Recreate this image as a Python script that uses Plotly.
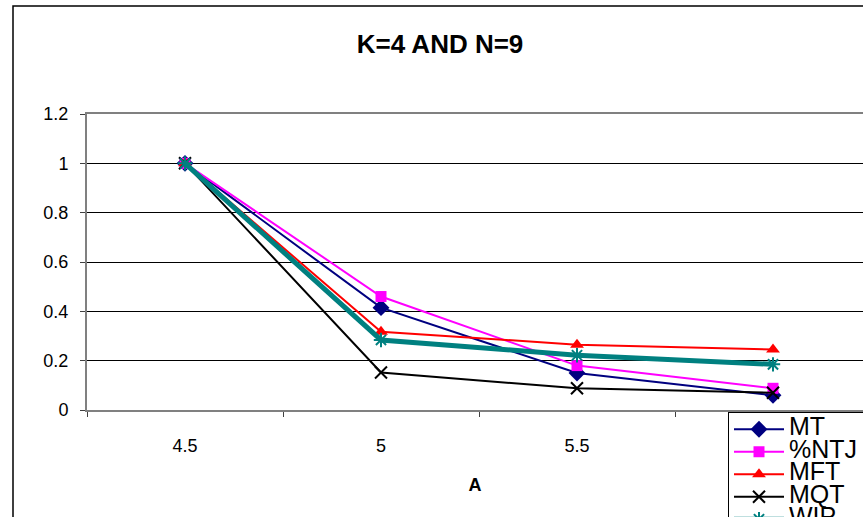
import plotly.graph_objects as go

# Category axis values and series
a_values = ["4.5", "5", "5.5", "6"]
mt = [1.0, 0.415, 0.15, 0.06]
ntj = [1.0, 0.46, 0.18, 0.088]
mft = [1.0, 0.317, 0.265, 0.245]
mqt = [1.0, 0.152, 0.088, 0.07]
wip = [1.0, 0.284, 0.222, 0.185]

W, H = 863, 517
L, R, T, B = 87, 0, 114, 107          # plot-area margins in px
PW, PH = W - L - R, H - T - B


def px_x(px):
    return (px - L) / PW


def px_y(py):
    return (H - B - py) / PH


FONT = "Arial, Liberation Sans, sans-serif"


def big(name):
    return f'<span style="font-size:25px">{name}</span>'


series = [
    ("MT", mt, "#000080", 2, dict(symbol="diamond", size=13, color="#000080")),
    ("%NTJ", ntj, "#FF00FF", 2, dict(symbol="square", size=11, color="#FF00FF")),
    ("MFT", mft, "#FF0000", 2, dict(symbol="triangle-up", size=12, color="#FF0000")),
    ("MQT", mqt, "#000000", 2, dict(symbol="x-thin", size=12, color="#000000",
                                      line=dict(color="#000000", width=2))),
    ("WIP", wip, "#008080", 5, dict(symbol="asterisk", size=12, color="#008080",
                                      line=dict(color="#008080", width=2))),
]

fig = go.Figure()
for name, vals, col, lw, mk in series:
    fig.add_trace(go.Scatter(
        x=a_values, y=vals, name=big(name), mode="lines+markers",
        line=dict(color=col, width=lw), marker=mk,
    ))

# x range chosen so each category is 196 px wide starting at the left edge
x0 = -0.5
x1 = x0 + PW / 196.0

fig.update_layout(
    width=W, height=H,
    margin=dict(l=L, r=R, t=T, b=B, autoexpand=False),
    paper_bgcolor="white", plot_bgcolor="white",
    font=dict(family=FONT, size=18, color="black"),
    title=dict(text="<b>K=4 AND N=9</b>", xref="container", yref="container",
               x=440 / W, y=1 - 44 / H, xanchor="center", yanchor="middle",
               font=dict(size=26, family=FONT, color="black")),
    showlegend=True,
    legend=dict(x=px_x(728), y=px_y(412), xanchor="left", yanchor="top",
                bgcolor="white", bordercolor="black", borderwidth=1,
                font=dict(family=FONT, size=15, color="black"),
                itemwidth=50, tracegroupgap=0),
    xaxis=dict(
        type="category", range=[x0, x1], tickson="boundaries",
        showgrid=False, zeroline=False,
        showline=True, linecolor="#808080", linewidth=2, mirror=True,
        ticks="outside", ticklen=5, tickcolor="#404040", tickwidth=1,
        ticklabelstandoff=18,
        tickfont=dict(size=18, family=FONT),
        title=dict(text="<b>A</b>", standoff=24, font=dict(size=18, family=FONT)),
    ),
    yaxis=dict(
        range=[0, 1.2], dtick=0.2, tick0=0,
        showgrid=True, gridcolor="black", gridwidth=1, zeroline=False,
        showline=True, linecolor="#808080", linewidth=2,
        ticks="outside", ticklen=5, tickcolor="#404040", tickwidth=1,
        ticklabelstandoff=8,
        tickfont=dict(size=18, family=FONT),
    ),
    shapes=[
        # outer chart-area frame (left and top edges)
        dict(type="path", xref="paper", yref="paper",
             path=f"M {px_x(13)} {px_y(530)} L {px_x(13)} {px_y(6)} L {px_x(880)} {px_y(6)}",
             line=dict(color="black", width=1.5)),
    ],
)

fig.write_html("out.html")
